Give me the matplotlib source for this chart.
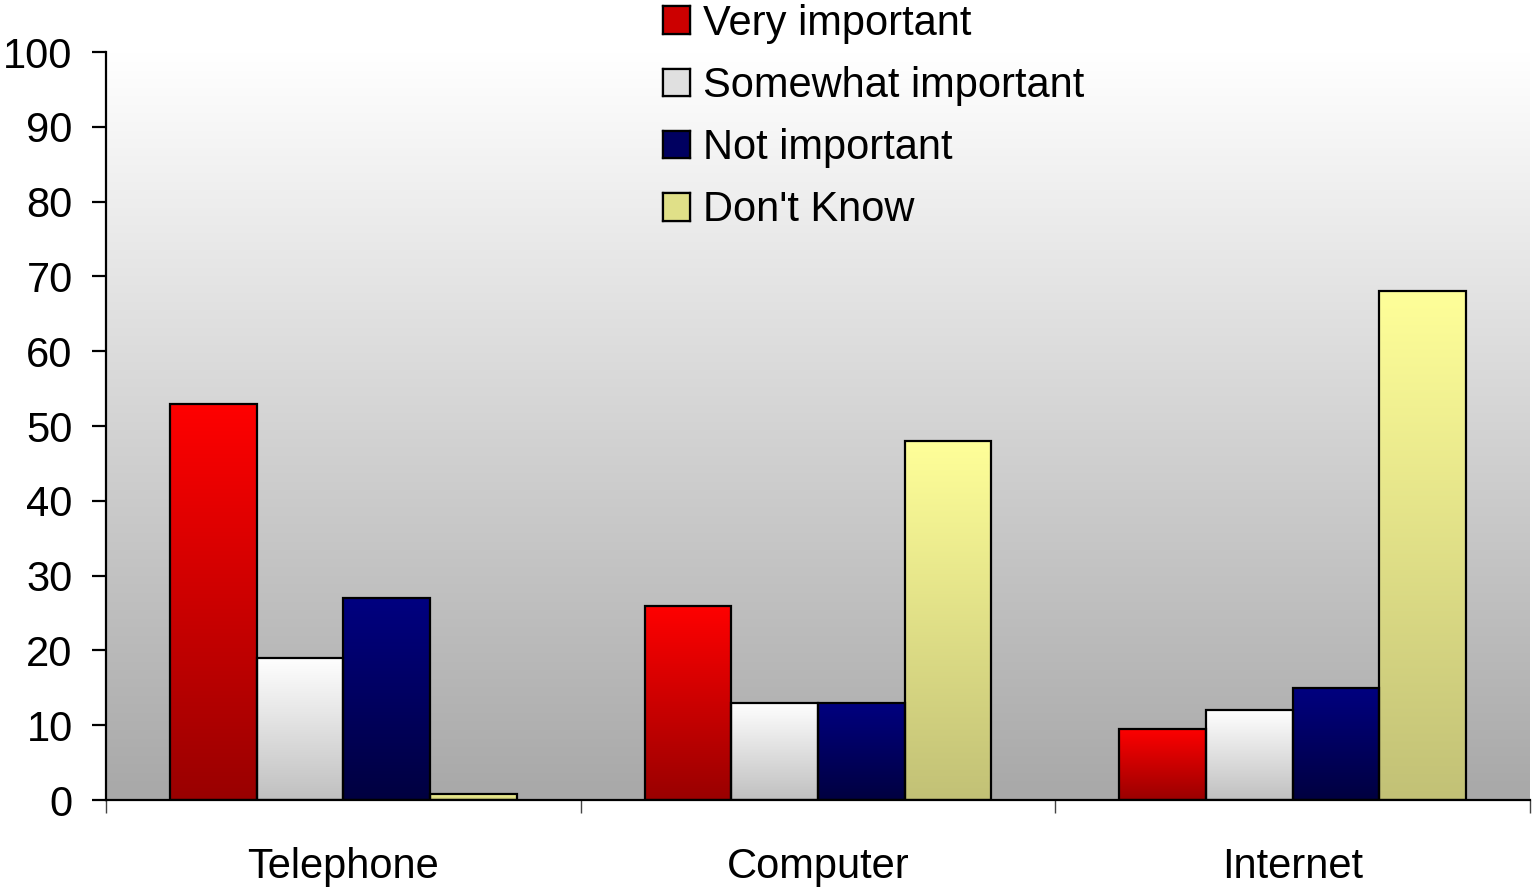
import numpy as np
import matplotlib
matplotlib.use("Agg")
import matplotlib.pyplot as plt
from matplotlib.colors import LinearSegmentedColormap
from matplotlib.patches import Rectangle

categories = ["Telephone", "Computer", "Internet"]
series_names = ["Very important", "Somewhat important", "Not important", "Don't Know"]
very_important = [53, 26, 9.5]
somewhat_important = [19, 13, 12]
not_important = [27, 13, 15]
dont_know = [0.8, 48, 68]
y_ticks = [0, 10, 20, 30, 40, 50, 60, 70, 80, 90, 100]

series_values = [very_important, somewhat_important, not_important, dont_know]
grad_colors = [("#ff0000", "#990000"),
               ("#ffffff", "#c0c0c0"),
               ("#000080", "#000040"),
               ("#ffff99", "#c2c176")]
mid_colors = ["#cc0000", "#e0e0e0", "#000060", "#e0e088"]

plt.rcParams['font.family'] = ['Liberation Sans', 'DejaVu Sans']
FS = 30

fig = plt.figure(figsize=(15.36, 8.92), dpi=100)
ax = fig.add_axes([106/1536, 1-800/892, (1530-106)/1536, (800-52)/892])

# background gradient
bg = np.linspace(0, 1, 256).reshape(-1, 1)
bg_cmap = LinearSegmentedColormap.from_list("bg", ["#ffffff", "#a8a8a8"])
ax.imshow(bg, cmap=bg_cmap, extent=(0, 1, 0, 1), transform=ax.transAxes,
          aspect='auto', zorder=0, interpolation='bilinear')

x = np.arange(len(categories))
group = 0.73
w = group / len(series_values)
handles = []
for i, (vals, (ctop, cbot)) in enumerate(zip(series_values, grad_colors)):
    offs = (i - (len(series_values) - 1) / 2) * w
    bars = ax.bar(x + offs, vals, width=w, facecolor='none', edgecolor='black',
                  linewidth=1.6, zorder=3)
    cmap = LinearSegmentedColormap.from_list(f"g{i}", [cbot, ctop])
    grad = np.linspace(1, 0, 256).reshape(-1, 1)
    for b in bars:
        x0 = b.get_x(); x1 = x0 + b.get_width(); h = b.get_height()
        ax.imshow(grad, cmap=cmap, extent=(x0, x1, 0, h), aspect='auto',
                  zorder=2, interpolation='bilinear', vmin=0, vmax=1)
    handles.append(Rectangle((0, 0), 1, 1, facecolor=mid_colors[i],
                             edgecolor='black', linewidth=1.6))

ax.set_xlim(-0.5, len(categories) - 0.5)
ax.set_ylim(0, 100)
ax.set_yticks(y_ticks)
ax.set_yticklabels([str(t) for t in y_ticks], fontsize=FS)
ax.set_xticks(x)
ax.set_xticklabels(categories, fontsize=FS)
ax.tick_params(axis='x', which='major', length=0, pad=34)
ax.set_xticks(np.arange(-0.5, len(categories), 1.0), minor=True)
ax.tick_params(axis='x', which='minor', length=9, width=1.0, color='#444444')
ax.tick_params(axis='y', length=10, width=1.6, pad=14)
for s in ['top', 'right']:
    ax.spines[s].set_visible(False)
ax.spines['left'].set_linewidth(1.6)
ax.spines['bottom'].set_linewidth(1.6)

leg = fig.legend(handles, series_names, loc='upper left',
                 bbox_to_anchor=(663/1536, 1-4/892), frameon=False,
                 fontsize=FS, handlelength=0.65, handleheight=0.65,
                 handletextpad=0.3, labelspacing=0.53, borderpad=0.0,
                 borderaxespad=0.0)

fig.canvas.draw()
inv = fig.transFigure.inverted()
for p, (ctop, cbot) in zip(leg.get_patches(), grad_colors):
    bb = p.get_window_extent()
    (fx0, fy0), (fx1, fy1) = inv.transform([[bb.x0, bb.y0], [bb.x1, bb.y1]])
    lax = fig.add_axes([fx0, fy0, fx1 - fx0, fy1 - fy0])
    cmap = LinearSegmentedColormap.from_list("lg", [cbot, ctop])
    lax.imshow(np.linspace(1, 0, 64).reshape(-1, 1), cmap=cmap, aspect='auto',
               interpolation='bilinear', vmin=0, vmax=1)
    lax.set_xticks([]); lax.set_yticks([])
    for s in lax.spines.values():
        s.set_linewidth(1.6); s.set_color('black')

fig.savefig("out.png", dpi=100)
